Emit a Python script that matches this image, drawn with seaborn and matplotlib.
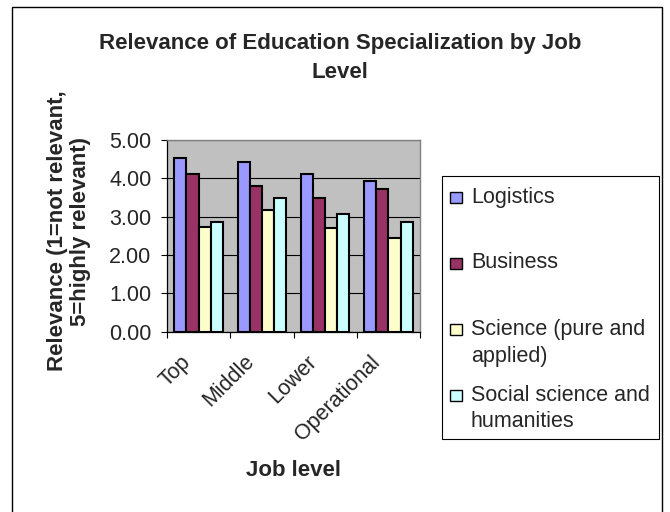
import numpy as np
import pandas as pd
import matplotlib
matplotlib.use("Agg")
import matplotlib.pyplot as plt
import matplotlib.transforms as mtransforms
from matplotlib.patches import Rectangle
from matplotlib.ticker import FixedLocator, FormatStrFormatter
import seaborn as sns

# ---- data -------------------------------------------------------------
job_levels = ["Top", "Middle", "Lower", "Operational"]
specializations = ["Logistics", "Business", "Science (pure and applied)",
                   "Social science and humanities"]
legend_lines = [["Logistics"], ["Business"], ["Science (pure and", "applied)"],
                ["Social science and", "humanities"]]
logistics = [4.52, 4.42, 4.12, 3.94]
business = [4.12, 3.79, 3.48, 3.73]
science = [2.74, 3.17, 2.70, 2.44]
social_science = [2.86, 3.48, 3.07, 2.86]
bar_colors = ["#9999FF", "#993366", "#FFFFCC", "#CCFFFF"]
y_ticks = [0, 1, 2, 3, 4, 5]

series = [logistics, business, science, social_science]
df = pd.DataFrame({
    "Job level": [lvl for _ in specializations for lvl in job_levels],
    "Specialization": [s for s in specializations for _ in job_levels],
    "Relevance": [v for vals in series for v in vals],
})

# ---- figure -----------------------------------------------------------
sns.set_theme(style="white")
plt.rcParams["font.family"] = ["Liberation Sans", "DejaVu Sans"]

W, H = 670, 512
fig = plt.figure(figsize=(W / 100, H / 100), dpi=100)
fig.patch.set_facecolor("white")


def fx(x):
    return x / W


def fy(y):
    return 1 - y / H


ax_l, ax_r, ax_t, ax_b = 167, 420, 140, 331.7
ax = fig.add_axes([fx(ax_l), fy(ax_b), (ax_r - ax_l) / W, (ax_b - ax_t) / H])

sns.barplot(data=df, x="Job level", y="Relevance", hue="Specialization",
            order=job_levels, hue_order=specializations, palette=bar_colors,
            saturation=1, width=0.77, edgecolor="black", linewidth=1.5,
            errorbar=None, legend=False, ax=ax)

ax.set_facecolor("#C0C0C0")
ax.set_ylim(0, 5)
ax.set_xlim(-0.5, len(job_levels) - 0.5)
ax.set_axisbelow(True)
ax.yaxis.set_major_locator(FixedLocator(y_ticks))
ax.yaxis.set_major_formatter(FormatStrFormatter("%.2f"))
ax.yaxis.grid(True, color="black", linewidth=0.8)
ax.xaxis.grid(False)

for side in ["left", "bottom"]:
    ax.spines[side].set_color("black")
    ax.spines[side].set_linewidth(0.9)
for side in ["top", "right"]:
    ax.spines[side].set_color("#808080")
    ax.spines[side].set_linewidth(1.0)

ax.tick_params(axis="y", which="major", direction="out", length=4.3, width=0.8,
               color="black", pad=7, labelsize=15.5, left=True)
ax.xaxis.set_minor_locator(FixedLocator(np.arange(-0.5, len(job_levels), 1.0)))
ax.tick_params(axis="x", which="minor", direction="out", length=4, width=0.8,
               color="black", bottom=True)
ax.tick_params(axis="x", which="major", length=0, pad=0, labelsize=15.5)

offset = mtransforms.ScaledTranslation(-11 / 100, -27 / 100, fig.dpi_scale_trans)
for lab in ax.get_xticklabels():
    lab.set_rotation(45)
    lab.set_ha("right")
    lab.set_va("center")
    lab.set_rotation_mode("anchor")
    lab.set_transform(lab.get_transform() + offset)

ax.set_xlabel("Job level", fontsize=16, fontweight="bold", va="center")
ax.xaxis.set_label_coords(0.5, (ax_b - 471) / (ax_b - ax_t))
ax.set_ylabel("Relevance (1=not relevant,\n5=highly relevant)", fontsize=16,
              fontweight="bold", va="center", linespacing=1.1)
ax.yaxis.set_label_coords((69 - ax_l) / (ax_r - ax_l), (ax_b - 231) / (ax_b - ax_t))

# ---- title ------------------------------------------------------------
fig.text(fx(340), fy(58), "Relevance of Education Specialization by Job\nLevel",
         ha="center", va="center", fontsize=16, fontweight="bold",
         linespacing=1.48)

# ---- legend -----------------------------------------------------------
fig.patches.append(Rectangle((fx(442), fy(439)), (659 - 442) / W, (439 - 176) / H,
                             transform=fig.transFigure, facecolor="white",
                             edgecolor="black", linewidth=0.8))
baselines = [[202.5], [268.5], [335, 362], [401, 427]]
for lines, color, bls in zip(legend_lines, bar_colors, baselines):
    fig.patches.append(Rectangle((fx(450), fy(bls[0])), 12 / W, 11 / H,
                                 transform=fig.transFigure, facecolor=color,
                                 edgecolor="black", linewidth=1.0))
    for txt, bl in zip(lines, bls):
        fig.text(fx(471), fy(bl), txt, ha="left", va="baseline", fontsize=15.5)

# ---- outer chart border -------------------------------------------------
fig.patches.append(Rectangle((fx(12.5), -0.02), (661.5 - 12.5) / W, fy(7) + 0.02,
                             transform=fig.transFigure, facecolor="none",
                             edgecolor="black", linewidth=1.0))

fig.savefig("out.png", dpi=100)
